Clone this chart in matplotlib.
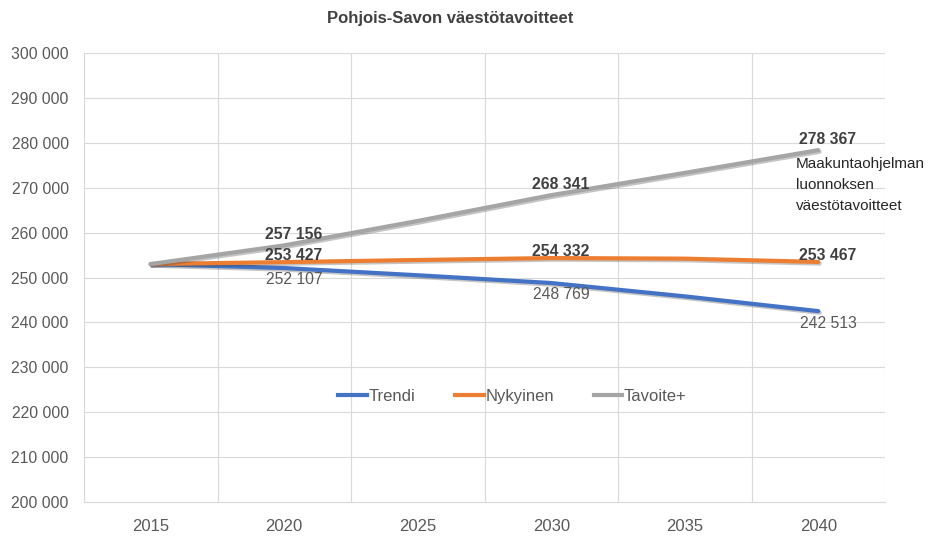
import matplotlib
matplotlib.use("Agg")
import matplotlib.pyplot as plt
import matplotlib.patheffects as pe
from matplotlib.lines import Line2D
from matplotlib.ticker import FuncFormatter, MultipleLocator

vuodet = ['2015', '2020', '2025', '2030', '2035', '2040']
trendi = [253000, 252107, 250500, 248769, 245800, 242513]
nykyinen = [253000, 253427, 253900, 254332, 254200, 253467]
tavoite = [253000, 257156, 262600, 268341, 273300, 278367]
nimet = ['Trendi', 'Nykyinen', 'Tavoite+']
varit = ['#4472C4', '#ED7D31', '#A5A5A5']
merkityt = [1, 3, 5]  # pisteet joilla on arvo

plt.rcParams['font.family'] = ['Liberation Sans', 'DejaVu Sans']

def fmt(v, pos=None):
    return '{:,}'.format(int(v)).replace(',', ' ')

fig = plt.figure(figsize=(9.35, 5.36), dpi=100)
ax = fig.add_axes([84/935, 34/536, 801/935, 449/536])
x = list(range(len(vuodet)))
varjo = [pe.SimpleLineShadow(offset=(1, -1.2), shadow_color='#404040', alpha=0.3), pe.Normal()]
for sarja, vari in zip([trendi, nykyinen, tavoite], varit):
    ax.plot(x, sarja, color=vari, lw=3, solid_capstyle='round', path_effects=varjo)

for i in merkityt:
    ax.annotate(fmt(tavoite[i]), (x[i], tavoite[i]), xytext=(7, 7.5), textcoords='offset points',
                ha='center', va='center', fontsize=11.3, fontweight='bold', color='#404040')
    ax.annotate(fmt(nykyinen[i]), (x[i], nykyinen[i]), xytext=(7, 4.5), textcoords='offset points',
                ha='center', va='center', fontsize=11.3, fontweight='bold', color='#404040')
    ax.annotate(fmt(trendi[i]), (x[i], trendi[i]), xytext=(7, -8.6), textcoords='offset points',
                ha='center', va='center', fontsize=11.3, color='#595959')

ax.text(5 - 0.17, 276840, 'Maakuntaohjelman\nluonnoksen\nväestötavoitteet', ha='left', va='top',
        fontsize=11, color='#262626', linespacing=1.62, clip_on=False)

ax.set_xlim(-0.5, 5.5)
ax.set_ylim(200000, 300000)
ax.yaxis.set_major_locator(MultipleLocator(10000))
ax.yaxis.set_major_formatter(FuncFormatter(fmt))
ax.set_xticks(x)
ax.set_xticklabels(vuodet)
ax.set_xticks([i + 0.5 for i in range(-1, 6)], minor=True)
ax.grid(axis='y', color='#D9D9D9', lw=0.8)
ax.grid(axis='x', which='minor', color='#D9D9D9', lw=0.8)
ax.set_axisbelow(True)
for s in ['top', 'right', 'left']:
    ax.spines[s].set_visible(False)
ax.spines['bottom'].set_color('#D9D9D9')
ax.tick_params(axis='both', which='both', length=0, colors='#595959')
ax.tick_params(axis='x', labelsize=12, pad=12)
ax.tick_params(axis='y', labelsize=11.3, pad=11)

kahvat = [Line2D([], [], color=v, lw=3) for v in varit]
ax.legend(kahvat, nimet, loc='center', bbox_to_anchor=(0.535, 0.236), ncol=3, frameon=False,
          fontsize=12, handlelength=1.7, handletextpad=0.1, columnspacing=2.4, labelcolor='#595959')

fig.text(450/935, 1 - 18/536, 'Pohjois-Savon väestötavoitteet', ha='center', va='center',
         fontsize=12, fontweight='bold', color='#404040')

fig.savefig('out.png', dpi=100)
